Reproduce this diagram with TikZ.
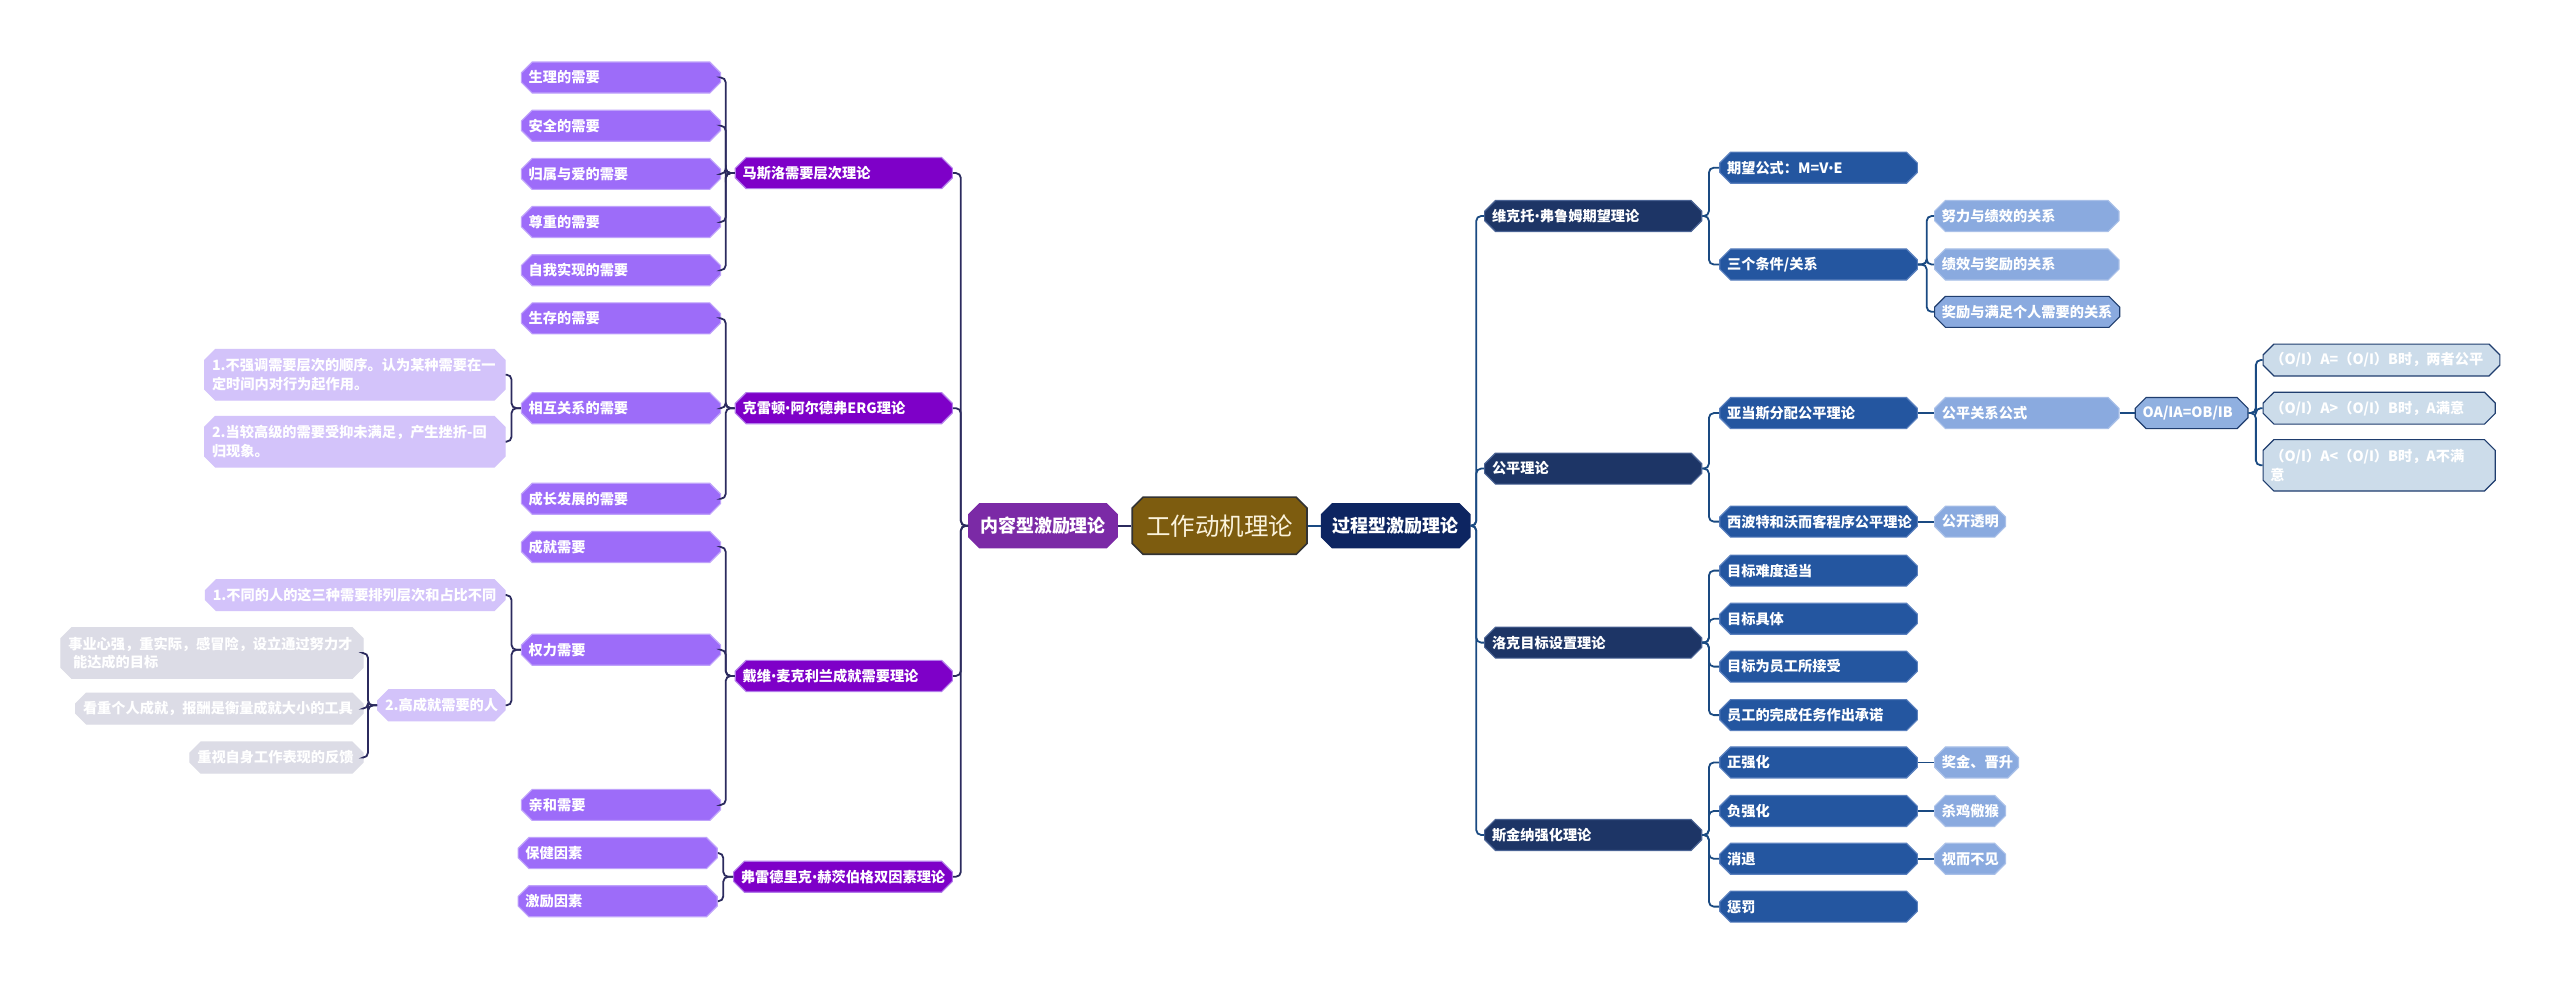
\documentclass[tikz,border=0pt]{standalone}
\usepackage{fontspec}
\setmainfont{Noto Sans CJK SC}
\newfontfamily\latinf{Noto Sans}
\usetikzlibrary{shapes.misc}
\definecolor{cCenter}{HTML}{7D5C0F}
\definecolor{cCenterT}{HTML}{FBF3DC}
\definecolor{cLone}{HTML}{7B2AA6}
\definecolor{cLtwo}{HTML}{7E00C8}
\definecolor{cLtwoB}{HTML}{B27BEA}
\definecolor{cLthree}{HTML}{9D6CF9}
\definecolor{cLthreeB}{HTML}{BFA2FB}
\definecolor{cLfour}{HTML}{D3C3FA}
\definecolor{cLfive}{HTML}{DCDCE6}
\definecolor{cLline}{HTML}{2B2A5E}
\definecolor{cRone}{HTML}{0D2561}
\definecolor{cRtwo}{HTML}{1D3566}
\definecolor{cRtwoB}{HTML}{4A6394}
\definecolor{cRthree}{HTML}{2456A0}
\definecolor{cRthreeB}{HTML}{5A80BE}
\definecolor{cRfour}{HTML}{8AAADF}
\definecolor{cRfourB}{HTML}{A9C0E8}
\definecolor{cRfive}{HTML}{90B0E0}
\definecolor{cRsix}{HTML}{CCDCEA}
\definecolor{cRdark}{HTML}{1F3D6E}
\definecolor{cRline}{HTML}{1A4A82}
\newcommand\ldot{{\latinf\bfseries •}}
\newcommand\mnd[7]{%
  \pgfmathsetmacro\ndw{#4-#3-6}\pgfmathsetmacro\ndtw{#4-#3-9}%
  \node[#1, anchor=west, minimum width=\ndw pt, minimum height=#6pt, text width=\ndtw pt] (#2) at (#3,#5) {#7};}
\tikzset{
  box/.style={chamfered rectangle, chamfered rectangle xsep=3pt,
    inner xsep=1.5pt, inner ysep=1pt, text=white,
    font=\bfseries\fontsize{8.7}{11.5}\selectfont, align=left, line width=0.7pt},
  Lone/.style={box, fill=cLone, draw=cLone, align=center, font=\bfseries\fontsize{11}{13}\selectfont},
  Ltwo/.style={box, fill=cLtwo, draw=cLtwoB},
  Lthree/.style={box, fill=cLthree, draw=cLthreeB},
  Lfour/.style={box, fill=cLfour, draw=cLfour},
  Lfive/.style={box, fill=cLfive, draw=cLfive},
  Cnode/.style={box, fill=cCenter, draw=black!80, line width=1pt, text=cCenterT, align=center,
    font=\fontsize{15}{17}\selectfont},
  Rone/.style={box, fill=cRone, draw=cRone, align=center, font=\bfseries\fontsize{11}{13}\selectfont},
  Rtwo/.style={box, fill=cRtwo, draw=cRtwoB},
  Rthree/.style={box, fill=cRthree, draw=cRthreeB},
  Rfour/.style={box, fill=cRfour, draw=cRfourB},
  Rfourd/.style={box, fill=cRfour, draw=cRdark},
  Rfive/.style={box, fill=cRfive, draw=cRdark},
  Rsix/.style={box, fill=cRsix, draw=cRdark},
  lineL/.style={draw=cLline, line width=1.1pt, rounded corners=3pt},
  lineR/.style={draw=cRline, line width=1.1pt, rounded corners=3pt},
}
\begin{document}
\begin{tikzpicture}[x=1pt,y=-1pt]
\fill[white] (0,0) rectangle (1568,603);
\useasboundingbox (0,0) rectangle (1568,603);
% center and level 1
\mnd{Cnode}{root}{693}{800}{322}{35}{工作动机理论}
\mnd{Lone}{kin}{593}{684}{322}{27}{内容型激励理论}
\mnd{Rone}{kout}{809}{900}{322}{27}{过程型激励理论}
% left level 2
\mnd{Ltwo}{m1}{450}{583}{106}{19}{马斯洛需要层次理论}
\mnd{Ltwo}{m2}{450}{583}{250}{19}{克雷顿\ldot 阿尔德弗ERG理论}
\mnd{Ltwo}{m3}{450}{583}{414}{19}{戴维\ldot 麦克利兰成就需要理论}
\mnd{Ltwo}{m4}{449}{583}{537}{19}{弗雷德里克\ldot 赫茨伯格双因素理论}
% left level 3
\mnd{Lthree}{a1}{319}{441}{47.5}{19}{生理的需要}
\mnd{Lthree}{a2}{319}{441}{77}{19}{安全的需要}
\mnd{Lthree}{a3}{319}{441}{106.5}{19}{归属与爱的需要}
\mnd{Lthree}{a4}{319}{441}{136}{19}{尊重的需要}
\mnd{Lthree}{a5}{319}{441}{165.5}{19}{自我实现的需要}
\mnd{Lthree}{b1}{319}{441}{195}{19}{生存的需要}
\mnd{Lthree}{b2}{319}{441}{250}{19}{相互关系的需要}
\mnd{Lthree}{b3}{319}{441}{305.5}{19}{成长发展的需要}
\mnd{Lthree}{c1}{319}{441}{335}{19}{成就需要}
\mnd{Lthree}{c2}{319}{441}{398}{19}{权力需要}
\mnd{Lthree}{c3}{319}{441}{493}{19}{亲和需要}
\mnd{Lthree}{d1}{317}{439}{522.5}{19}{保健因素}
\mnd{Lthree}{d2}{317}{439}{552}{19}{激励因素}
% left level 4
\mnd{Lfour}{b21}{125}{309}{229.5}{31}{1.不强调需要层次的顺序。认为某种需要在一\\定时间内对行为起作用。}
\mnd{Lfour}{b22}{125}{309}{270.5}{31}{2.当较高级的需要受抑未满足，产生挫折-回\\归现象。}
\mnd{Lfour}{c21}{125.5}{309}{364.5}{19}{1.不同的人的这三种需要排列层次和占比不同}
\mnd{Lfour}{c22}{231}{309}{432}{19}{2.高成就需要的人}
% left level 5
\mnd{Lfive}{e1}{37}{222}{400}{31}{事业心强，重实际，感冒险，设立通过努力才\\\ 能达成的目标}
\mnd{Lfive}{e2}{46}{222}{434}{19}{看重个人成就，报酬是衡量成就大小的工具}
\mnd{Lfive}{e3}{116}{222}{464}{19}{重视自身工作表现的反馈}
% right level 2
\mnd{Rtwo}{p1}{909}{1042}{132.3}{19}{维克托\ldot 弗鲁姆期望理论}
\mnd{Rtwo}{p2}{909}{1042}{287}{19}{公平理论}
\mnd{Rtwo}{p3}{909}{1042}{393.6}{19}{洛克目标设置理论}
\mnd{Rtwo}{p4}{909}{1042}{511.4}{19}{斯金纳强化理论}
% right level 3
\mnd{Rthree}{q1}{1053}{1174}{102.7}{19}{期望公式：M=V\ldot E}
\mnd{Rthree}{q2}{1053}{1174}{162}{19}{三个条件/关系}
\mnd{Rthree}{q3}{1053}{1174}{253}{19}{亚当斯分配公平理论}
\mnd{Rthree}{q4}{1053}{1174}{319.5}{19}{西波特和沃而客程序公平理论}
\mnd{Rthree}{q5}{1053}{1174}{349.5}{19}{目标难度适当}
\mnd{Rthree}{q6}{1053}{1174}{379}{19}{目标具体}
\mnd{Rthree}{q7}{1053}{1174}{408.3}{19}{目标为员工所接受}
\mnd{Rthree}{q8}{1053}{1174}{438}{19}{员工的完成任务作出承诺}
\mnd{Rthree}{q9}{1053}{1174}{467}{19}{正强化}
\mnd{Rthree}{q10}{1053}{1174}{496.7}{19}{负强化}
\mnd{Rthree}{q11}{1053}{1174}{526}{19}{消退}
\mnd{Rthree}{q12}{1053}{1174}{555.3}{19}{惩罚}
% right level 4
\mnd{Rfour}{r1}{1184.6}{1297.5}{132.3}{19}{努力与绩效的关系}
\mnd{Rfour}{r2}{1184.6}{1297.5}{162}{19}{绩效与奖励的关系}
\mnd{Rfourd}{r3}{1184.6}{1298}{191}{19}{奖励与满足个人需要的关系}
\mnd{Rfour}{r4}{1184.6}{1297.5}{253}{19}{公平关系公式}
\mnd{Rfour}{r5}{1184.6}{1228}{319.5}{19}{公开透明}
\mnd{Rfour}{r6}{1184.6}{1236}{467}{19}{奖金、晋升}
\mnd{Rfour}{r7}{1184.6}{1228}{496.7}{19}{杀鸡儆猴}
\mnd{Rfour}{r8}{1184.6}{1228}{526}{19}{视而不见}
% right level 5 and 6
\mnd{Rfive}{o1}{1307.5}{1376.5}{253}{19}{OA/IA=OB/IB}
\mnd{Rsix}{s1}{1385.8}{1530.8}{220.5}{19.5}{（O/I）A=（O/I）B时，两者公平}
\mnd{Rsix}{s2}{1385.8}{1528}{250}{19.5}{（O/I）A>（O/I）B时，A满意}
\mnd{Rsix}{s3}{1385.8}{1528}{285}{31.5}{（O/I）A<（O/I）B时，A不满\\意}
% connectors left
\draw[lineL] (root.west) -- (kin.east);
\foreach \c in {m1,m2,m3,m4} \draw[lineL] (kin.west) -- ++(-4.5,0) |- (\c.east);
\foreach \c in {a1,a2,a3,a4,a5} \draw[lineL] (m1.west) -- ++(-5.5,0) |- (\c.east);
\foreach \c in {b1,b2,b3} \draw[lineL] (m2.west) -- ++(-5.5,0) |- (\c.east);
\foreach \c in {c1,c2,c3} \draw[lineL] (m3.west) -- ++(-5.5,0) |- (\c.east);
\foreach \c in {d1,d2} \draw[lineL] (m4.west) -- ++(-6,0) |- (\c.east);
\foreach \c in {b21,b22} \draw[lineL] (b2.west) -- ++(-5.7,0) |- (\c.east);
\foreach \c in {c21,c22} \draw[lineL] (c2.west) -- ++(-5.7,0) |- (\c.east);
\foreach \c in {e1,e2,e3} \draw[lineL] (c22.west) -- ++(-5.6,0) |- (\c.east);
% connectors right
\draw[lineR] (root.east) -- (kout.west);
\foreach \c in {p1,p2,p3,p4} \draw[lineR] (kout.east) -- ++(3.5,0) |- (\c.west);
\foreach \c in {q1,q2} \draw[lineR] (p1.east) -- ++(4,0) |- (\c.west);
\foreach \c in {q3,q4} \draw[lineR] (p2.east) -- ++(4,0) |- (\c.west);
\foreach \c in {q5,q6,q7,q8} \draw[lineR] (p3.east) -- ++(4,0) |- (\c.west);
\foreach \c in {q9,q10,q11,q12} \draw[lineR] (p4.east) -- ++(4,0) |- (\c.west);
\foreach \c in {r1,r2,r3} \draw[lineR] (q2.east) -- ++(5.4,0) |- (\c.west);
\draw[lineR] (q3.east) -- (r4.west);
\draw[lineR] (q4.east) -- (r5.west);
\draw[lineR] (q9.east) -- (r6.west);
\draw[lineR] (q10.east) -- (r7.west);
\draw[lineR] (q11.east) -- (r8.west);
\draw[lineR] (r4.east) -- (o1.west);
\foreach \c in {s1,s2,s3} \draw[lineR] (o1.east) -- ++(4.5,0) |- (\c.west);
\end{tikzpicture}
\end{document}
